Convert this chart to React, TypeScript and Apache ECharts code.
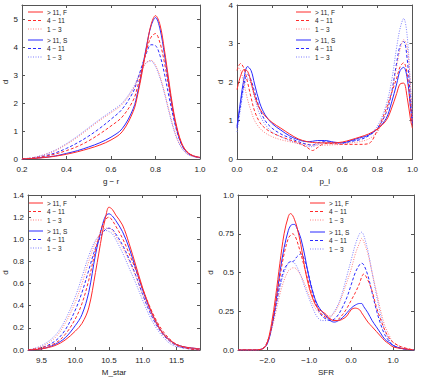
import React, { useEffect, useRef } from "react";
import * as echarts from "echarts";

// ---------- data ----------
const seriesKeys = ["F>11", "F4-11", "F1-3", "S>11", "S4-11", "S1-3"];
const legendLabels: Record<string, string> = {
  "F>11": "> 11, F",
  "F4-11": "4 − 11",
  "F1-3": "1 − 3",
  "S>11": "> 11, S",
  "S4-11": "4 − 11",
  "S1-3": "1 − 3",
};

// Panel 1: g - r
const grX = [0.2, 0.25, 0.3, 0.35, 0.4, 0.45, 0.5, 0.55, 0.6, 0.65, 0.7, 0.72, 0.74, 0.76, 0.78, 0.8, 0.82, 0.84, 0.86, 0.88, 0.9, 0.92, 0.94, 0.96, 0.98, 1.0];
const grF11 = [0.0, 0.02, 0.05, 0.1, 0.17, 0.26, 0.37, 0.5, 0.68, 0.97, 1.7, 2.3, 3.1, 4.0, 4.8, 5.12, 4.8, 3.9, 2.8, 1.75, 1.0, 0.52, 0.27, 0.15, 0.09, 0.06];
const grF4 = [0.0, 0.03, 0.09, 0.18, 0.3, 0.45, 0.65, 0.9, 1.18, 1.5, 2.1, 2.6, 3.25, 3.9, 4.35, 4.48, 4.15, 3.45, 2.55, 1.65, 0.95, 0.5, 0.27, 0.15, 0.09, 0.05];
const grF1 = [0.0, 0.05, 0.15, 0.3, 0.52, 0.78, 1.08, 1.38, 1.65, 1.95, 2.5, 2.85, 3.2, 3.45, 3.52, 3.35, 2.95, 2.4, 1.75, 1.15, 0.68, 0.38, 0.2, 0.11, 0.07, 0.04];
const grS11 = [0.0, 0.02, 0.06, 0.11, 0.2, 0.3, 0.43, 0.58, 0.78, 1.08, 1.8, 2.4, 3.2, 4.05, 4.75, 5.05, 4.65, 3.75, 2.65, 1.65, 0.92, 0.48, 0.25, 0.14, 0.08, 0.05];
const grS4 = [0.0, 0.04, 0.11, 0.22, 0.38, 0.58, 0.82, 1.1, 1.42, 1.78, 2.4, 2.85, 3.35, 3.8, 4.08, 4.05, 3.7, 3.05, 2.25, 1.5, 0.88, 0.47, 0.25, 0.14, 0.08, 0.05];
const grS1 = [0.0, 0.05, 0.16, 0.32, 0.55, 0.82, 1.12, 1.42, 1.7, 2.0, 2.55, 2.9, 3.22, 3.45, 3.5, 3.3, 2.9, 2.35, 1.7, 1.1, 0.65, 0.36, 0.19, 0.11, 0.07, 0.04];

// Panel 2: p_l
const plX = [0, 0.02, 0.04, 0.06, 0.08, 0.1, 0.13, 0.16, 0.2, 0.25, 0.3, 0.35, 0.4, 0.43, 0.46, 0.5, 0.55, 0.6, 0.65, 0.7, 0.75, 0.8, 0.85, 0.88, 0.91, 0.93, 0.95, 0.97, 0.99, 1.0];
const plF11 = [1.8, 2.15, 2.32, 2.28, 2.0, 1.65, 1.3, 1.12, 0.95, 0.8, 0.65, 0.52, 0.45, 0.43, 0.42, 0.42, 0.42, 0.44, 0.5, 0.57, 0.65, 0.78, 1.0, 1.3, 1.7, 1.95, 1.97, 1.6, 1.0, 0.8];
const plF4 = [2.3, 2.48, 2.35, 2.0, 1.6, 1.25, 0.95, 0.8, 0.68, 0.58, 0.5, 0.42, 0.3, 0.22, 0.3, 0.4, 0.4, 0.38, 0.38, 0.38, 0.4, 0.75, 1.3, 1.7, 2.1, 2.4, 2.5, 2.2, 1.3, 0.9];
const plF1 = [2.4, 2.3, 1.95, 1.55, 1.25, 1.0, 0.8, 0.68, 0.58, 0.5, 0.45, 0.4, 0.37, 0.36, 0.36, 0.36, 0.37, 0.38, 0.42, 0.45, 0.52, 0.7, 1.2, 1.7, 2.4, 2.85, 3.1, 2.9, 1.8, 1.0];
const plS11 = [0.85, 1.5, 2.1, 2.4, 2.3, 1.95, 1.45, 1.15, 0.92, 0.75, 0.6, 0.5, 0.45, 0.46, 0.48, 0.48, 0.44, 0.42, 0.48, 0.55, 0.62, 0.78, 1.05, 1.45, 1.95, 2.3, 2.38, 2.1, 1.3, 0.9];
const plS4 = [0.8, 1.4, 1.95, 2.2, 2.05, 1.75, 1.3, 1.0, 0.8, 0.65, 0.55, 0.45, 0.38, 0.36, 0.42, 0.45, 0.43, 0.42, 0.46, 0.5, 0.6, 0.8, 1.2, 1.7, 2.5, 2.95, 3.05, 2.6, 1.5, 1.0];
const plS1 = [0.7, 1.3, 1.85, 2.1, 1.95, 1.6, 1.15, 0.9, 0.7, 0.58, 0.48, 0.4, 0.33, 0.32, 0.38, 0.42, 0.4, 0.4, 0.45, 0.52, 0.62, 0.85, 1.4, 2.0, 2.9, 3.4, 3.65, 3.2, 1.8, 1.0];

// Panel 3: M_star
const msX = [9.3, 9.5, 9.7, 9.85, 10.0, 10.1, 10.2, 10.3, 10.4, 10.45, 10.5, 10.55, 10.6, 10.7, 10.8, 10.9, 11.0, 11.1, 11.2, 11.3, 11.4, 11.5, 11.6, 11.7, 11.85];
const msF11 = [0.0, 0.01, 0.04, 0.09, 0.17, 0.24, 0.38, 0.7, 1.05, 1.2, 1.29, 1.27, 1.22, 1.13, 0.96, 0.76, 0.56, 0.39, 0.25, 0.15, 0.09, 0.05, 0.03, 0.02, 0.01];
const msF4 = [0.0, 0.02, 0.06, 0.14, 0.28, 0.42, 0.63, 0.9, 1.12, 1.18, 1.2, 1.17, 1.12, 1.01, 0.87, 0.72, 0.55, 0.4, 0.27, 0.17, 0.1, 0.05, 0.03, 0.01, 0.0];
const msF1 = [0.0, 0.03, 0.11, 0.24, 0.43, 0.6, 0.8, 0.97, 1.07, 1.1, 1.1, 1.08, 1.03, 0.93, 0.8, 0.66, 0.5, 0.36, 0.24, 0.14, 0.08, 0.04, 0.02, 0.01, 0.0];
const msS11 = [0.0, 0.01, 0.05, 0.11, 0.22, 0.32, 0.52, 0.86, 1.12, 1.21, 1.23, 1.21, 1.17, 1.07, 0.92, 0.73, 0.54, 0.38, 0.25, 0.15, 0.09, 0.05, 0.03, 0.02, 0.01];
const msS4 = [0.0, 0.02, 0.08, 0.18, 0.36, 0.52, 0.72, 0.92, 1.05, 1.09, 1.1, 1.09, 1.05, 0.95, 0.82, 0.67, 0.5, 0.35, 0.23, 0.14, 0.08, 0.04, 0.02, 0.01, 0.0];
const msS1 = [0.0, 0.04, 0.13, 0.27, 0.48, 0.66, 0.85, 0.99, 1.06, 1.08, 1.07, 1.05, 1.0, 0.88, 0.74, 0.6, 0.45, 0.31, 0.2, 0.12, 0.06, 0.03, 0.02, 0.01, 0.0];

// Panel 4: SFR
const sfrX = [-2.7, -2.3, -2.1, -2.0, -1.9, -1.8, -1.7, -1.6, -1.5, -1.45, -1.4, -1.35, -1.3, -1.2, -1.1, -1.0, -0.9, -0.8, -0.7, -0.6, -0.5, -0.4, -0.3, -0.2, -0.1, 0.0, 0.1, 0.2, 0.25, 0.3, 0.4, 0.5, 0.6, 0.7, 0.8, 0.9, 1.0, 1.2, 1.5];
const sfrF11 = [0, 0, 0.01, 0.05, 0.17, 0.35, 0.56, 0.75, 0.86, 0.88, 0.87, 0.84, 0.8, 0.68, 0.52, 0.4, 0.32, 0.27, 0.25, 0.23, 0.2, 0.19, 0.19, 0.2, 0.22, 0.26, 0.27, 0.26, 0.24, 0.22, 0.18, 0.15, 0.12, 0.09, 0.06, 0.04, 0.02, 0.01, 0];
const sfrF4 = [0, 0, 0.01, 0.05, 0.15, 0.3, 0.47, 0.62, 0.72, 0.74, 0.75, 0.74, 0.71, 0.62, 0.52, 0.42, 0.33, 0.27, 0.23, 0.21, 0.2, 0.19, 0.2, 0.23, 0.27, 0.32, 0.37, 0.43, 0.47, 0.49, 0.45, 0.38, 0.28, 0.2, 0.13, 0.08, 0.05, 0.02, 0];
const sfrF1 = [0, 0, 0.01, 0.05, 0.13, 0.24, 0.36, 0.45, 0.51, 0.52, 0.53, 0.53, 0.52, 0.48, 0.42, 0.35, 0.29, 0.25, 0.23, 0.22, 0.22, 0.24, 0.29, 0.36, 0.44, 0.52, 0.62, 0.69, 0.72, 0.7, 0.62, 0.5, 0.38, 0.26, 0.16, 0.1, 0.05, 0.02, 0];
const sfrS11 = [0, 0, 0.01, 0.04, 0.14, 0.3, 0.5, 0.66, 0.77, 0.8, 0.81, 0.81, 0.79, 0.72, 0.6, 0.46, 0.36, 0.29, 0.25, 0.22, 0.19, 0.18, 0.19, 0.21, 0.24, 0.27, 0.29, 0.3, 0.3, 0.28, 0.24, 0.19, 0.15, 0.11, 0.07, 0.05, 0.03, 0.01, 0];
const sfrS4 = [0, 0, 0.01, 0.05, 0.14, 0.28, 0.42, 0.52, 0.56, 0.57, 0.57, 0.58, 0.6, 0.62, 0.57, 0.47, 0.36, 0.27, 0.22, 0.2, 0.19, 0.2, 0.23, 0.28, 0.34, 0.42, 0.5, 0.55, 0.56, 0.55, 0.48, 0.37, 0.26, 0.17, 0.1, 0.06, 0.03, 0.01, 0];
const sfrS1 = [0, 0, 0.01, 0.05, 0.14, 0.27, 0.4, 0.5, 0.56, 0.57, 0.57, 0.56, 0.54, 0.48, 0.4, 0.33, 0.26, 0.21, 0.19, 0.19, 0.21, 0.25, 0.3, 0.38, 0.48, 0.58, 0.68, 0.75, 0.76, 0.74, 0.64, 0.5, 0.36, 0.23, 0.13, 0.07, 0.03, 0.01, 0];

// tick values
const grXTicks = [0.2, 0.4, 0.6, 0.8, 1.0];
const grYTicks = [0, 1, 2, 3, 4, 5];
const plXTicks = [0, 0.2, 0.4, 0.6, 0.8, 1.0];
const plYTicks = [0, 1, 2, 3, 4];
const msXTicks = [9.5, 10.0, 10.5, 11.0, 11.5];
const msYTicks = [0, 0.2, 0.4, 0.6, 0.8, 1.0, 1.2, 1.4];
const sfrXTicks = [-2, -1, 0, 1];
const sfrYTicks = [0, 0.25, 0.5, 0.75, 1.0];

const FONT = "'Liberation Sans', Arial, Helvetica, sans-serif";
const styles: Record<string, { color: string; dash: number[] | null; opacity: number }> = {
  "F>11": { color: "#ff2a2a", dash: null, opacity: 1 },
  "F4-11": { color: "#ff2a2a", dash: [3, 2], opacity: 1 },
  "F1-3": { color: "#ff7070", dash: [1, 1.5], opacity: 0.9 },
  "S>11": { color: "#2a2aff", dash: null, opacity: 1 },
  "S4-11": { color: "#2a2aff", dash: [3, 2], opacity: 1 },
  "S1-3": { color: "#7070ff", dash: [1, 1.5], opacity: 0.9 },
};

const panels = [
  { xs: grX, ys: [grF11, grF4, grF1, grS11, grS4, grS1], xMin: 0.2, xMax: 1.0, yMin: 0, yMax: 5.5, xTicks: grXTicks, yTicks: grYTicks, xName: "g − r", xFmt: (v: number) => v.toFixed(1), yFmt: (v: number) => String(v), grid: { left: 22, top: 5, width: 178, height: 154 }, legend: { left: 28, top1: 12, top2: 40 } },
  { xs: plX, ys: [plF11, plF4, plF1, plS11, plS4, plS1], xMin: 0, xMax: 1.0, yMin: 0, yMax: 4, xTicks: plXTicks, yTicks: plYTicks, xName: "p_l", xFmt: (v: number) => v.toFixed(1), yFmt: (v: number) => String(v), grid: { left: 237, top: 5, width: 177, height: 154 }, legend: { left: 296, top1: 12, top2: 40 } },
  { xs: msX, ys: [msF11, msF4, msF1, msS11, msS4, msS1], xMin: 9.3, xMax: 11.85, yMin: 0, yMax: 1.4, xTicks: msXTicks, yTicks: msYTicks, xName: "M_star", xFmt: (v: number) => v.toFixed(1), yFmt: (v: number) => v.toFixed(1), grid: { left: 22, top: 195, width: 178, height: 155 }, legend: { left: 28, top1: 203, top2: 231 } },
  { xs: sfrX, ys: [sfrF11, sfrF4, sfrF1, sfrS11, sfrS4, sfrS1], xMin: -2.7, xMax: 1.5, yMin: 0, yMax: 1.0, xTicks: sfrXTicks, yTicks: sfrYTicks, xName: "SFR", xFmt: (v: number) => v.toFixed(1).replace("-", "−"), yFmt: (v: number) => (v === 0 ? "0.0" : v === 1 ? "1.0" : String(v)), grid: { left: 238, top: 195, width: 176, height: 155 }, legend: { left: 310, top1: 203, top2: 232 } },
];

export default function App() {
  const ref = useRef<HTMLDivElement>(null);
  useEffect(() => {
    if (!ref.current) return;
    const chart = echarts.init(ref.current, undefined, { renderer: "svg" });
    const axisColor = "#555";
    const textColor = "#222";
    const grids: any[] = [];
    const xAxes: any[] = [];
    const yAxes: any[] = [];
    const series: any[] = [];
    const graphics: any[] = [];
    const rowGap = 8.5;
    panels.forEach((p, pi) => {
      grids.push({ ...p.grid, containLabel: false });
      xAxes.push({
        type: "value", gridIndex: pi, min: p.xMin, max: p.xMax, position: "bottom",
        name: p.xName, nameLocation: "middle", nameGap: 18,
        nameTextStyle: { fontSize: 8, color: textColor, fontFamily: FONT },
        axisLine: { show: true, onZero: false, lineStyle: { color: axisColor, width: 1 } },
        axisTick: { show: true, inside: true, length: 3, customValues: p.xTicks, lineStyle: { color: axisColor } },
        axisLabel: { show: true, customValues: p.xTicks, formatter: p.xFmt, fontSize: 8, color: textColor, margin: 6, fontFamily: FONT },
        splitLine: { show: false },
      });
      yAxes.push({
        type: "value", gridIndex: pi, min: p.yMin, max: p.yMax, position: "left",
        name: "d", nameLocation: "middle", nameGap: 12,
        nameTextStyle: { fontSize: 8, color: textColor, fontFamily: FONT },
        axisLine: { show: true, onZero: false, lineStyle: { color: axisColor, width: 1 } },
        axisTick: { show: true, inside: true, length: 3, customValues: p.yTicks, lineStyle: { color: axisColor } },
        axisLabel: { show: true, customValues: p.yTicks, formatter: p.yFmt, fontSize: 8, color: textColor, margin: 4, fontFamily: FONT },
        splitLine: { show: false },
      });
      p.ys.forEach((ys, si) => {
        const key = seriesKeys[si];
        const st = styles[key];
        series.push({
          type: "line", name: key, xAxisIndex: pi, yAxisIndex: pi,
          data: p.xs.map((x, i) => [x, ys[i]]),
          smooth: 0.35, symbol: "none", clip: true,
          lineStyle: { color: st.color, width: 1, type: st.dash ? st.dash : "solid", opacity: st.opacity },
          itemStyle: { color: st.color },
          z: 10 - si,
        });
        // legend entry
        const cy = (si < 3 ? p.legend.top1 + si * rowGap : p.legend.top2 + (si - 3) * rowGap);
        graphics.push({
          type: "line", silent: true,
          shape: { x1: p.legend.left, y1: cy, x2: p.legend.left + 15, y2: cy },
          style: { stroke: st.color, lineWidth: 1, lineDash: st.dash || undefined, opacity: st.opacity },
        });
        graphics.push({
          type: "text", silent: true, x: p.legend.left + 19, y: cy,
          style: { text: legendLabels[key], fontSize: 6.5, fontFamily: FONT, fill: textColor, verticalAlign: "middle", align: "left" },
        });
      });
    });
    // mirror axes (top and right) for the box frame with inward ticks
    panels.forEach((p, pi) => {
      xAxes.push({
        type: "value", gridIndex: pi, min: p.xMin, max: p.xMax, position: "top",
        axisLine: { show: true, onZero: false, lineStyle: { color: axisColor, width: 1 } },
        axisTick: { show: true, inside: true, length: 3, customValues: p.xTicks, lineStyle: { color: axisColor } },
        axisLabel: { show: false }, splitLine: { show: false },
      });
      yAxes.push({
        type: "value", gridIndex: pi, min: p.yMin, max: p.yMax, position: "right",
        axisLine: { show: true, onZero: false, lineStyle: { color: axisColor, width: 1 } },
        axisTick: { show: true, inside: true, length: 3, customValues: p.yTicks, lineStyle: { color: axisColor } },
        axisLabel: { show: false }, splitLine: { show: false },
      });
    });
    chart.setOption({
      animation: false,
      backgroundColor: "#ffffff",
      grid: grids,
      xAxis: xAxes,
      yAxis: yAxes,
      series,
      graphic: graphics,
    });
    return () => chart.dispose();
  }, []);
  return <div ref={ref} style={{ position: "fixed", left: 0, top: 0, width: 421, height: 378 }} />;
}
